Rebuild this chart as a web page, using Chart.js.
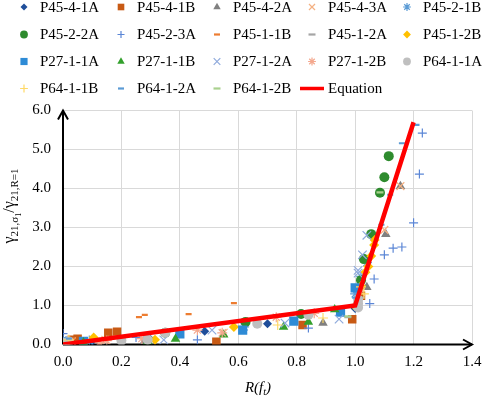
<!DOCTYPE html>
<html><head><meta charset="utf-8">
<script src="https://cdn.jsdelivr.net/npm/chart.js@4.4.1/dist/chart.umd.min.js"></script>
<style>html,body{margin:0;padding:0;background:#fff;}#wrap{width:484px;height:398px;position:relative;}</style>
</head><body><div id="wrap"><canvas id="c"></canvas></div>
<script>
// ---- data ----
const seriesNames = ['P45-4-1A','P45-4-1B','P45-4-2A','P45-4-3A','P45-2-1B',
  'P45-2-2A','P45-2-3A','P45-1-1B','P45-1-2A','P45-1-2B',
  'P27-1-1A','P27-1-1B','P27-1-2A','P27-1-2B','P64-1-1A',
  'P64-1-1B','P64-1-2A','P64-1-2B'];
const xTicks = [0.0,0.2,0.4,0.6,0.8,1.0,1.2,1.4];
const yTicks = [0,1,2,3,4,5,6];

const P45_4_1A = [[0.01,0.04],[0.10,0.08],[0.30,0.13],[0.485,0.34],[0.70,0.53],[1.00,0.92]];
const P45_4_1B = [[0.00,0.06],[0.03,0.12],[0.05,0.15],[0.155,0.30],[0.185,0.33],[0.525,0.07],[0.82,0.50],[0.99,0.65],[1.02,1.25]];
const P45_4_2A = [[0.01,0.05],[0.28,0.10],[0.89,0.55],[1.04,1.47],[1.105,2.83],[1.155,4.06]];
const P45_4_3A = [[0.03,0.08],[0.145,0.12],[0.55,0.30],[1.02,1.35],[1.10,2.94],[1.155,4.06]];
const P45_2_1B = [[0.00,0.12],[0.09,0.10],[0.28,0.18],[0.62,0.45],[1.00,1.30],[1.02,1.75],[1.04,2.10]];
const P45_2_2A = [[0.01,0.03],[0.35,0.30],[0.625,0.58],[0.815,0.78],[1.02,1.65],[1.03,2.19],[1.055,2.83],[1.085,3.89],[1.10,4.29],[1.115,4.83]];
const P45_2_3A = [[0.00,0.28],[0.25,0.18],[0.46,0.12],[0.84,0.42],[1.05,1.05],[1.065,1.68],[1.10,2.30],[1.13,2.47],[1.16,2.50],[1.20,3.12],[1.22,4.37],[1.23,5.42]];
const P45_1_1B = [[0.03,0.15],[0.26,0.70],[0.28,0.76],[0.43,0.78],[0.585,1.06]];
const P45_1_2A = [[0.01,0.08],[0.20,0.12],[0.60,0.45],[0.975,0.70],[1.02,1.20]];
const P45_1_2B = [[0.105,0.18],[0.315,0.12],[0.585,0.45],[1.00,0.98],[1.02,1.50],[1.035,1.85],[1.045,2.00],[1.055,2.27],[1.065,2.55],[1.067,2.68]];
const P27_1_1A = [[0.00,0.07],[0.07,0.08],[0.40,0.27],[0.615,0.37],[0.79,0.60],[0.95,0.83],[1.00,1.45]];
const P27_1_1B = [[0.07,0.05],[0.29,0.08],[0.385,0.14],[0.55,0.25],[0.755,0.45],[0.84,0.58],[0.93,0.90]];
const P27_1_2A = [[0.345,0.12],[0.51,0.37],[0.76,0.55],[0.945,0.65],[1.01,1.83],[1.01,1.90],[1.025,2.30],[1.04,2.80]];
const P27_1_2B = [[0.125,0.05],[0.15,0.10],[0.27,0.15],[0.46,0.37],[0.545,0.30],[0.73,0.70],[0.86,0.80]];
const P64_1_1A = [[0.00,0.05],[0.02,0.08],[0.20,0.10],[0.29,0.12],[0.35,0.30],[0.665,0.53],[0.84,0.76],[1.01,0.95],[1.01,1.05],[1.01,1.15]];
const P64_1_1B = [[0.02,0.12],[0.735,0.50],[0.89,0.68],[1.02,1.48],[1.03,1.30]];
const P64_1_2A = [[0.02,0.15],[1.00,1.20],[1.09,3.07],[1.12,3.84],[1.16,5.16],[1.21,5.63]];
const P64_1_2B = [[0.00,0.04],[0.35,0.32],[0.975,0.72],[1.085,3.90]];
const equationX = [0.0, 1.0, 1.2];
const equationY = [0.0, 1.0, 5.7];

const seriesData = [P45_4_1A,P45_4_1B,P45_4_2A,P45_4_3A,P45_2_1B,P45_2_2A,P45_2_3A,P45_1_1B,P45_1_2A,P45_1_2B,
  P27_1_1A,P27_1_1B,P27_1_2A,P27_1_2B,P64_1_1A,P64_1_1B,P64_1_2A,P64_1_2B];

// ---- styles ----
const styles = [
  {ps:'rectRot', c:'#1F4E9A', r:4.5},
  {ps:'rect', c:'#C85A14', r:6},
  {ps:'triangle', c:'#808080', r:5.5},
  {ps:'crossRot', c:'#F4B183', r:5.5, bw:1.2},
  {ps:'star', c:'#5B9BD5', r:5, bw:1.2},
  {ps:'circle', c:'#2E8B2E', r:5},
  {ps:'cross', c:'#5B86D6', r:4.5, bw:1.2},
  {ps:'line', c:'#ED7D31', r:3, bw:2.2},
  {ps:'line', c:'#A5A5A5', r:3.5, bw:2.2},
  {ps:'rectRot', c:'#FFC000', r:5},
  {ps:'rect', c:'#2E8BD6', r:6.5},
  {ps:'triangle', c:'#33A02C', r:5.5},
  {ps:'crossRot', c:'#8FAADC', r:6, bw:1.2},
  {ps:'star', c:'#F4A88E', r:5, bw:1.2},
  {ps:'circle', c:'#BFBFBF', r:5},
  {ps:'cross', c:'#FFD966', r:5, bw:1.2},
  {ps:'line', c:'#5B9BD5', r:3, bw:2.2},
  {ps:'line', c:'#A9D18E', r:3.5, bw:2.2}
];

const SERIF = "'Liberation Serif','Times New Roman',serif";

const datasets = seriesNames.map((n,i)=>{
  const st = styles[i];
  const stroke = ['crossRot','star','cross','line'].includes(st.ps);
  return {
    label: n,
    data: seriesData[i].map(p=>({x:p[0], y:p[1]})),
    showLine: false,
    pointStyle: st.ps,
    pointRadius: st.r,
    pointBackgroundColor: st.c,
    pointBorderColor: st.c,
    pointBorderWidth: stroke ? st.bw : 0,
    order: -i
  };
});
datasets.push({
  label: 'Equation',
  data: equationX.map((x,i)=>({x, y:equationY[i]})),
  showLine: true,
  borderColor: '#FF0000',
  borderWidth: 4.5,
  pointRadius: 0,
  fill: false,
  order: -100
});

const L = 63, B = 344.5, T = 110.5, R = 472;

function drawRuns(ctx, runs, cx, baseY) {
  let total = 0;
  runs.forEach(r=>{ ctx.font = (r.it?'italic ':'') + r.s + 'px ' + SERIF; r.w = ctx.measureText(r.t).width; total += r.w; });
  let x = cx - total/2;
  ctx.textAlign = 'left'; ctx.textBaseline = 'alphabetic';
  runs.forEach(r=>{ ctx.font = (r.it?'italic ':'') + r.s + 'px ' + SERIF; ctx.fillText(r.t, x, baseY + (r.dy||0)); x += r.w; });
}

const decor = {
  id: 'decor',
  beforeDatasetsDraw(chart) {
    const ctx = chart.ctx, ca = chart.chartArea;
    ctx.save();
    ctx.strokeStyle = '#000'; ctx.fillStyle = '#000'; ctx.lineWidth = 2;
    ctx.beginPath();
    ctx.moveTo(ca.left, ca.bottom); ctx.lineTo(ca.right, ca.bottom);
    ctx.moveTo(ca.left, ca.bottom); ctx.lineTo(ca.left, ca.top);
    ctx.stroke();
    ctx.beginPath();
    ctx.moveTo(ca.right - 9, ca.bottom - 5); ctx.lineTo(ca.right, ca.bottom); ctx.lineTo(ca.right - 9, ca.bottom + 5);
    ctx.moveTo(ca.left - 5, ca.top + 9); ctx.lineTo(ca.left, ca.top); ctx.lineTo(ca.left + 5, ca.top + 9);
    ctx.stroke();
    ctx.restore();
  },
  afterDraw(chart) {
    const ctx = chart.ctx;
    ctx.save();
    ctx.fillStyle = '#000';
    // legend
    const colX = [24,121,217,312,407], rowY = [7,34.5,61.5,88.5];
    const items = chart.data.datasets;
    items.forEach((ds,i)=>{
      const cx = colX[i%5], cy = rowY[Math.floor(i/5)];
      if (ds.label === 'Equation') {
        ctx.strokeStyle = '#FF0000'; ctx.lineWidth = 3.5;
        ctx.beginPath(); ctx.moveTo(cx-12, cy); ctx.lineTo(cx+12, cy); ctx.stroke();
      } else {
        const st = styles[i];
        ctx.fillStyle = st.c; ctx.strokeStyle = st.c;
        const stroke = ['crossRot','star','cross','line'].includes(st.ps);
        ctx.lineWidth = stroke ? st.bw : 0;
        Chart.helpers.drawPoint(ctx, {pointStyle: st.ps, radius: st.ps==='line'? st.r : st.r*0.78, rotation:0, borderWidth: stroke?st.bw:0}, cx, cy);
      }
      ctx.fillStyle = '#000';
      ctx.font = '15px ' + SERIF; ctx.textAlign = 'left'; ctx.textBaseline = 'middle';
      ctx.fillText(ds.label, cx + 16, cy + 1);
    });
    // y title
    ctx.save();
    ctx.translate(14, 206); ctx.rotate(-Math.PI/2);
    ctx.fillStyle = '#000';
    drawRuns(ctx, [{t:'\u03B3',s:16},{t:'21,\u03C3',s:11,dy:4},{t:'1',s:8,dy:7},{t:'/\u03B3',s:16},{t:'21,R=1',s:11,dy:4}], 0, 0);
    ctx.restore();
    // x title
    drawRuns(ctx, [{t:'R(f',s:15,it:true},{t:'t',s:10,it:true,dy:3},{t:')',s:15,it:true}], 258, 392);
    ctx.restore();
  }
};

new Chart(document.getElementById('c'), {
  type: 'scatter',
  data: { datasets },
  options: {
    responsive: true, maintainAspectRatio: false, animation: false,
    layout: { padding: { top: T, right: 484 - R, left: 0, bottom: 0 } },
    plugins: { legend: { display: false }, tooltip: { enabled: false } },
    scales: {
      x: {
        type: 'linear', min: 0, max: 1.4,
        afterBuildTicks: s => { s.ticks = xTicks.map(v=>({value:v})); },
        afterFit: s => { s.height = 398 - B; s.paddingLeft = 0; s.paddingRight = 0; },
        border: { display: false },
        grid: { color: '#D9D9D9', lineWidth: 1, drawTicks: false },
        ticks: { padding: 9, color: '#000', font: { family: SERIF, size: 15 }, callback: v => Number(v).toFixed(1), maxRotation: 0 }
      },
      y: {
        type: 'linear', min: 0, max: 6,
        afterBuildTicks: s => { s.ticks = yTicks.map(v=>({value:v})); },
        afterFit: s => { s.width = L; s.paddingTop = 0; s.paddingBottom = 0; },
        border: { display: false },
        grid: { color: '#D9D9D9', lineWidth: 1, drawTicks: false },
        ticks: { padding: 12, color: '#000', font: { family: SERIF, size: 15 }, callback: v => Number(v).toFixed(1) }
      }
    }
  },
  plugins: [decor]
});
</script>
</body></html>
